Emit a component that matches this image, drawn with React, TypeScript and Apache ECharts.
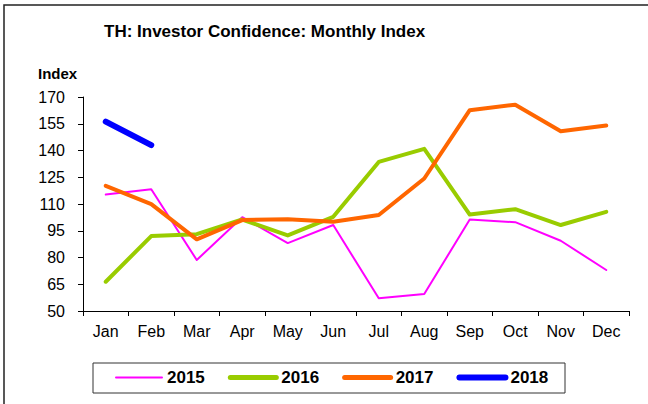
import React, { useEffect, useRef } from "react";
import * as echarts from "echarts";

const months = ["Jan", "Feb", "Mar", "Apr", "May", "Jun", "Jul", "Aug", "Sep", "Oct", "Nov", "Dec"];
const s2015 = [115.3, 118.3, 78.6, 102.6, 88.1, 98.2, 57.1, 59.5, 101.3, 99.8, 89.4, 73];
const s2016 = [66.4, 92, 93.1, 101.3, 92.4, 102.8, 133.6, 140.9, 104.1, 107.1, 98.2, 105.6];
const s2017 = [120.2, 109.9, 90.2, 101, 101.5, 100, 103.8, 124.3, 162.6, 165.7, 150.8, 154];
const s2018 = [156.2, 143, null, null, null, null, null, null, null, null, null, null];

const FONT = "Liberation Sans, Arial, sans-serif";

export default function App() {
  const ref = useRef<HTMLDivElement>(null);
  useEffect(() => {
    const chart = echarts.init(ref.current!, null, { renderer: "svg" });
    const mk = (name: string, data: any[], color: string, width: number) => ({
      name,
      type: "line",
      data,
      symbol: "none",
      connectNulls: false,
      lineStyle: { color, width, cap: "round", join: "round" },
      itemStyle: { color },
    });
    const leg = (name: string, color: string, width: number) => ({
      name,
      itemStyle: { opacity: 0 },
      lineStyle: { color, width, cap: "round" },
    });
    chart.setOption({
      animation: false,
      backgroundColor: "#fff",
      grid: { left: 83, right: 19, top: 97, bottom: 93 },
      xAxis: {
        type: "category",
        data: months,
        boundaryGap: true,
        axisLine: { lineStyle: { color: "#000", width: 1 } },
        axisTick: { show: true, length: 5, lineStyle: { color: "#000" } },
        axisLabel: { color: "#000", fontFamily: FONT, fontSize: 16, margin: 12 },
      },
      yAxis: {
        type: "value",
        min: 50,
        max: 170,
        interval: 15,
        axisLine: { show: true, lineStyle: { color: "#000", width: 1 } },
        axisTick: { show: true, length: 5, lineStyle: { color: "#000" } },
        splitLine: { show: false },
        axisLabel: { color: "#000", fontFamily: FONT, fontSize: 16, margin: 18 },
      },
      legend: {
        left: 115,
        top: 369,
        padding: 0,
        itemWidth: 46,
        itemHeight: 8,
        itemGap: 23,
        textStyle: { color: "#000", fontFamily: FONT, fontSize: 17, fontWeight: "bold", padding: [0, 0, 0, 0] },
        data: [
          leg("2015", "#FF00FF", 2),
          leg("2016", "#99CC00", 5),
          leg("2017", "#FF6600", 5),
          leg("2018", "#0000FF", 6),
        ],
      },
      graphic: [
        { type: "rect", shape: { x: 4, y: 5, width: 700, height: 500 }, style: { fill: "none", stroke: "#222", lineWidth: 1.5 }, silent: true },
        { type: "rect", shape: { x: 93, y: 363, width: 472, height: 30 }, style: { fill: "none", stroke: "#333", lineWidth: 1 }, silent: true },
        { type: "text", x: 104, y: 23, style: { text: "TH: Investor Confidence: Monthly Index", fill: "#000", font: `bold 17px ${FONT}` } },
        { type: "text", x: 38, y: 66, style: { text: "Index", fill: "#000", font: `bold 15px ${FONT}` } },
      ],
      series: [
        mk("2015", s2015, "#FF00FF", 2),
        mk("2016", s2016, "#99CC00", 4),
        mk("2017", s2017, "#FF6600", 4),
        mk("2018", s2018, "#0000FF", 6),
      ],
    });
    return () => chart.dispose();
  }, []);
  return <div ref={ref} style={{ width: 648, height: 404, position: "absolute", left: 0, top: 0 }} />;
}
